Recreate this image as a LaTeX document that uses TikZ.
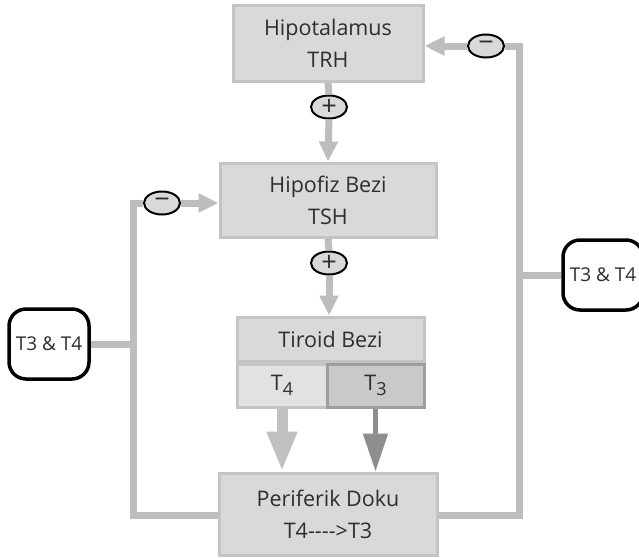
\documentclass[tikz,border=0pt]{standalone}
\usepackage{fontspec}
\setsansfont{Open Sans}
\usepackage{tikz}
\usetikzlibrary{shapes.geometric,arrows.meta,positioning,calc}
\definecolor{boxfill}{HTML}{D9D9D9}
\definecolor{boxline}{HTML}{C4C4C4}
\definecolor{wire}{HTML}{BDBDBD}
\definecolor{txt}{HTML}{2E2E2E}
\definecolor{cellA}{HTML}{E2E2E2}
\definecolor{cellB}{HTML}{C9C9C9}
\definecolor{cellBline}{HTML}{9E9E9E}
\definecolor{tipdark}{HTML}{8E8E8E}
\newcommand{\Tsub}[1]{T\raisebox{-0.45ex}{\fontsize{18}{18}\selectfont #1}}

\begin{document}
\begin{tikzpicture}[
    x=1pt, y=-1pt,
    font=\sffamily\fontsize{21.5}{32}\selectfont,
    box/.style={rectangle, draw=boxline, line width=3pt, fill=boxfill, text=txt, align=center, inner sep=0pt},
    cell/.style={rectangle, draw=boxline, line width=3pt, text=txt, inner sep=0pt, minimum height=43pt},
    sign/.style={ellipse, draw=black, line width=2pt, fill=boxfill, minimum width=36pt, minimum height=23pt, inner sep=0pt, text=txt, font=\sffamily\fontsize{27}{27}\selectfont},
    tag/.style={rectangle, rounded corners=17pt, draw=black, line width=3.5pt, fill=white, minimum width=80pt, minimum height=70pt, inner sep=0pt, text=txt, font=\sffamily\fontsize{19}{19}\selectfont},
    wire/.style={draw=wire, line width=7pt},
    arrow/.style={wire, -{Triangle[length=20pt,width=18pt]}}
]
    \useasboundingbox (0,0) rectangle (639,557);

    % Hormone boxes
    \node[box, minimum width=190pt, minimum height=76pt] (hypo) at (328,43) {Hipotalamus\\TRH};
    \node[box, minimum width=216pt, minimum height=74pt] (hipofiz) at (328,200) {Hipofiz Bezi\\TSH};
    \node[box, minimum width=218pt, minimum height=82pt] (periferik) at (328,514) {Periferik Doku\\T4{-}{-}{-}{-}>T3};

    % Tiroid Bezi
    \node[cell, fill=boxfill, minimum width=187pt, minimum height=44pt] (tiroid) at (330.5,339) {Tiroid Bezi};
    \node[cell, fill=cellA, minimum width=90pt, anchor=north west] (t4) at (tiroid.south west) {\Tsub{4}};
    \node[cell, fill=cellB, draw=cellBline, minimum width=97pt, anchor=north east] (t3) at (tiroid.south east) {\Tsub{3}};

    % Signs
    \node[sign] (plus1) at (329,107) {+};
    \node[sign] (plus2) at (329,263) {+};
    \node[sign] (minus1) at (486,46) {\textminus};
    \node[sign] (minus2) at (162,203) {\textminus};

    % Feedback tags
    \node[tag] (tagL) at (49,344) {T3 \& T4};
    \node[tag] (tagR) at (603,275) {T3 \& T4};

    % Corners of the loops
    \coordinate (loopL) at (133,515);
    \coordinate (loopR) at (519,515);

    % Stimulation
    \draw[wire] (hypo.south) -- (plus1.north);
    \draw[arrow] (plus1.south) -- (hipofiz.north);
    \draw[wire] (hipofiz.south) -- (plus2.north);
    \draw[arrow] (plus2.south) -- (tiroid.north -| plus2);

    % Thyroid output
    \draw[draw=cellA!85!black, line width=11pt, -{Triangle[length=40pt,width=28pt]}] (t4.south) -- (t4.south |- periferik.north);
    \draw[draw=tipdark, line width=5pt, -{Triangle[length=38pt,width=24pt]}] (t3.south) -- (t3.south |- periferik.north);

    % Negative feedback
    \draw[wire] (periferik.east |- loopR) -- (loopR) |- (minus1.east);
    \draw[arrow] (minus1.west) -- (hypo.east |- minus1);
    \draw[wire] (periferik.west |- loopL) -- (loopL) |- (minus2.west);
    \draw[arrow] (minus2.east) -- (hipofiz.west |- minus2);
    \draw[wire] (tagL.east) -- (tagL.east -| loopL);
    \draw[wire] (tagR.west) -- (tagR.west -| loopR);
\end{tikzpicture}
\end{document}
